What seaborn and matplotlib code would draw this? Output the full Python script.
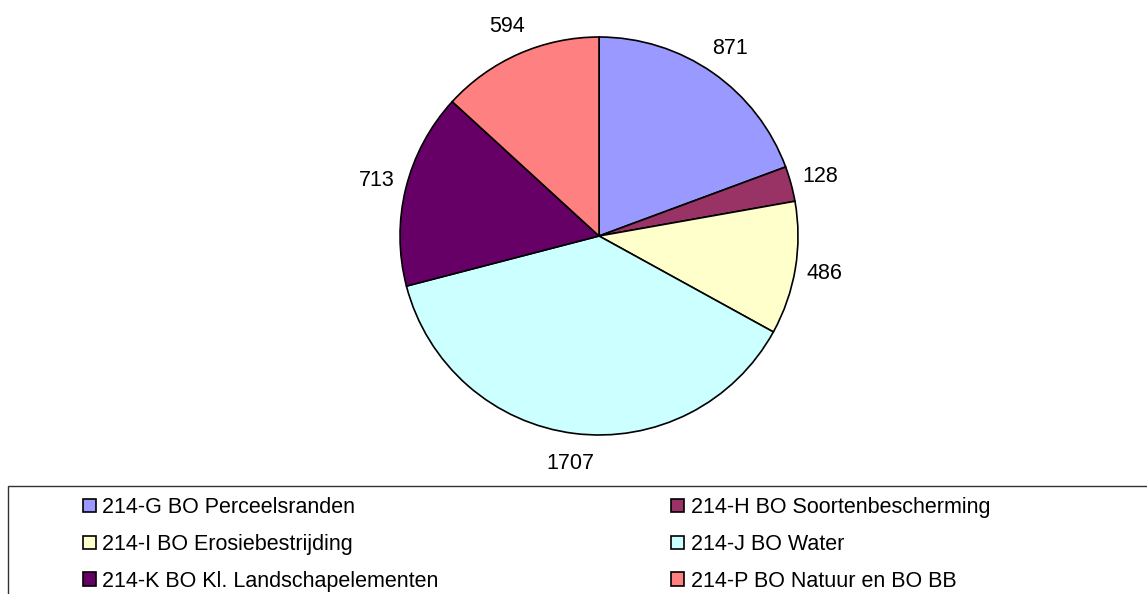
import matplotlib
matplotlib.use("Agg")
import matplotlib.pyplot as plt
from matplotlib.patches import Rectangle
import seaborn as sns

# Data
categories = [
    "214-G BO Perceelsranden",
    "214-H BO Soortenbescherming",
    "214-I BO Erosiebestrijding",
    "214-J BO Water",
    "214-K BO Kl. Landschapelementen",
    "214-P BO Natuur en BO BB",
]
values = [871, 128, 486, 1707, 713, 594]
colors = ["#9999FF", "#993366", "#FFFFCC", "#CCFFFF", "#660066", "#FF8080"]

sns.set_style("white")
plt.rcParams["font.family"] = ["Liberation Sans", "DejaVu Sans"]
plt.rcParams["text.color"] = "black"

fig = plt.figure(figsize=(11.47, 5.94), dpi=100)
ax = fig.add_axes([0.2967, 0.1672, 0.4511, 0.871])

wedges, texts = ax.pie(
    values,
    colors=colors,
    labels=[str(v) for v in values],
    labeldistance=1.15,
    startangle=90,
    counterclock=False,
    wedgeprops={"edgecolor": "black", "linewidth": 1.2},
    textprops={"fontsize": 15.5, "color": "black"},
)
for t in texts:
    t.set_horizontalalignment("center")
ax.set_xlim(-1.3, 1.3)
ax.set_ylim(-1.3, 1.3)
ax.set_aspect("equal")
ax.axis("off")

# legend frame (runs past the right and bottom edges)
fig.patches.append(Rectangle((8 / 1147, -0.1), 1.2, 108 / 594 + 0.1,
                             transform=fig.transFigure, fill=False,
                             edgecolor="#333333", linewidth=1.0))

# legend is filled row by row in the reference, matplotlib fills by column
order = [0, 2, 4, 1, 3, 5]
fig.legend([wedges[i] for i in order], [categories[i] for i in order],
           ncol=2, frameon=False,
           loc="upper left", bbox_to_anchor=(83 / 1147, 97 / 594),
           fontsize=15.5, handlelength=0.6, handleheight=0.6,
           handletextpad=0.3, columnspacing=10.8, labelspacing=0.74,
           borderpad=0, borderaxespad=0)

fig.savefig("out.png", dpi=100)
